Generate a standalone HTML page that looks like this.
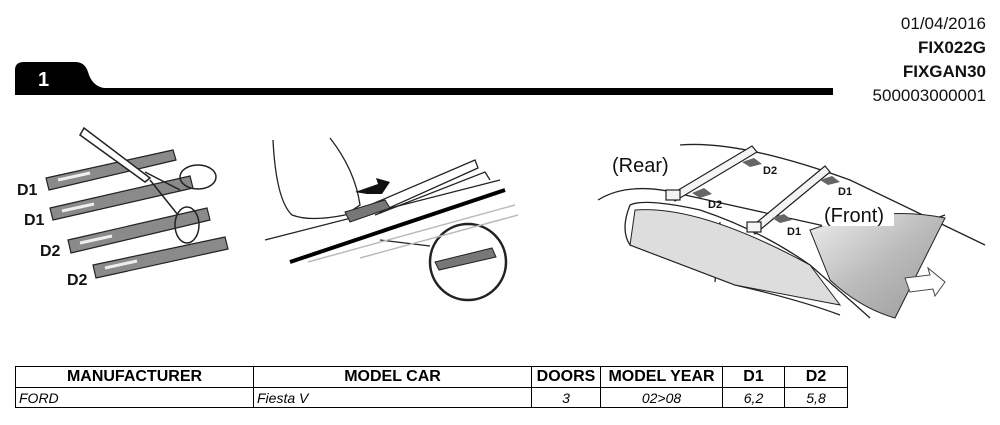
<!DOCTYPE html>
<html><head><meta charset="utf-8"><style>
body{margin:0;width:1000px;height:425px;background:#fff;position:relative;overflow:hidden;font-family:"Liberation Sans",Arial,sans-serif}
.hdr{position:absolute;right:14px;top:12px;text-align:right;font-size:17px;line-height:24px;color:#111}
table{position:absolute;left:15px;top:366px;border-collapse:collapse;font-size:14px}
td{border:1px solid #000;padding:0 3px;height:19px;line-height:18px}
th{border:1px solid #000;font-weight:bold;font-size:16px;height:20px;padding:0 2px}
td{font-style:italic}
</style></head><body>
<div class="hdr">01/04/2016<br><b>FIX022G</b><br><b>FIXGAN30</b><br>500003000001</div>
<svg width="1000" height="360" style="position:absolute;left:0;top:0" font-family="Liberation Sans,Arial,sans-serif">
<defs><linearGradient id="ws" x1="0" y1="0" x2="1" y2="1"><stop offset="0" stop-color="#eee"/><stop offset="0.5" stop-color="#bbb"/><stop offset="1" stop-color="#999"/></linearGradient></defs>
<path d="M15 95 L15 70 Q15 62 24 62 L75 62 Q85 62 88 72 Q92 86 104 88 L833 88 L833 95 Z" fill="#000"/>
<text x="38" y="86" fill="#fff" font-size="20" font-weight="bold">1</text>
<g fill="#8a8a8a" stroke="#222" stroke-width="1.2">
<polygon points="46,178 173,150 176,160 49,190"/>
<polygon points="50,208 190,176 193,188 53,220"/>
<polygon points="68,240 207,208 210,220 71,253"/>
<polygon points="93,265 225,237 228,249 96,278"/>
</g>
<g stroke="#eee" stroke-width="3">
<line x1="58" y1="180" x2="90" y2="173"/><line x1="62" y1="211" x2="94" y2="204"/>
<line x1="80" y1="243" x2="112" y2="236"/><line x1="105" y1="268" x2="137" y2="261"/>
</g>
<g font-weight="bold" font-size="16" fill="#111">
<text x="17" y="195">D1</text><text x="24" y="225">D1</text><text x="40" y="256">D2</text><text x="67" y="285">D2</text>
</g>
<g fill="none" stroke="#222" stroke-width="1.5">
<path d="M80 135 L84 128 L150 178 L145 182 Z" fill="#fff"/>
<ellipse cx="198" cy="177" rx="18" ry="12"/><ellipse cx="187" cy="225" rx="12" ry="18"/>
<path d="M145 172 L180 190 M150 180 L178 215"/>
</g>
<g fill="none" stroke="#222" stroke-width="1.3">
<path d="M273 140 Q276 200 292 215 Q310 222 345 215 L360 205 Q355 170 330 138"/>
<path d="M265 240 L500 180"/>
<path d="M370 205 L475 160 L478 168 L380 212 Z"/>
<path d="M375 215 L485 172 L490 180"/>
<circle cx="468" cy="262" r="38" stroke-width="2.5"/>
<path d="M380 240 L430 246"/>
</g>
<path d="M290 262 L505 190" stroke="#000" stroke-width="4"/>
<path d="M308 262 L515 205 M360 258 L518 215" stroke="#bbb" stroke-width="1.5"/>
<polygon points="345,212 385,200 390,208 350,222" fill="#777" stroke="#222"/>
<polygon points="435,262 492,248 496,257 439,270" fill="#777" stroke="#222"/>
<polygon points="355,192 378,184 376,178 390,182 382,194 367,194" fill="#111"/>
<g fill="none" stroke="#222" stroke-width="1.3">
<path d="M598 200 Q630 180 685 195 L820 225 Q880 240 945 215"/>
<path d="M630 205 Q645 198 700 210 Q760 230 810 265 Q850 300 870 318"/>
<path d="M630 205 Q620 230 630 245 L735 285 Q800 300 840 315"/>
<path d="M720 222 L715 282"/>
<path d="M680 145 Q740 140 850 180 L985 245"/>
</g>
<path d="M810 230 Q880 205 945 218 L895 318 Q860 308 830 280 Z" fill="url(#ws)" stroke="#222"/>
<path d="M635 210 Q700 205 810 265 L840 305 L735 285 L630 245 Z" fill="#ddd" stroke="#222"/>
<g stroke="#222" stroke-width="1.2" fill="#f4f4f4">
<polygon points="670,195 752,146 757,152 675,201"/>
<polygon points="750,228 825,166 830,172 755,234"/>
<rect x="666" y="190" width="14" height="10"/><rect x="747" y="222" width="14" height="10"/>
</g>
<g fill="#666"><path d="M692 193 l12 -5 l8 6 l-12 4z"/><path d="M742 162 l12 -4 l8 6 l-12 3z"/><path d="M772 218 l12 -4 l8 6 l-12 3z"/><path d="M820 180 l12 -4 l8 6 l-12 3z"/></g>
<g font-weight="bold" font-size="11" fill="#111">
<text x="708" y="208">D2</text><text x="763" y="174">D2</text><text x="787" y="235">D1</text><text x="838" y="195">D1</text>
</g>
<text x="612" y="172" font-size="20" fill="#111">(Rear)</text>
<rect x="822" y="204" width="72" height="22" fill="#fff"/>
<text x="824" y="222" font-size="20" fill="#111">(Front)</text>
<path d="M905 278 L930 275 L928 268 L945 282 L935 296 L933 289 L910 292 Z" fill="#fff" stroke="#444"/>
</svg>
<table>
<tr><th style="width:233px">MANUFACTURER</th><th style="width:273px">MODEL CAR</th><th style="width:64px">DOORS</th><th style="width:117px">MODEL YEAR</th><th style="width:57px">D1</th><th style="width:58px">D2</th></tr>
<tr><td>FORD</td><td>Fiesta V</td><td style="text-align:center">3</td><td style="text-align:center">02&gt;08</td><td style="text-align:center">6,2</td><td style="text-align:center">5,8</td></tr>
</table>
</body></html>
